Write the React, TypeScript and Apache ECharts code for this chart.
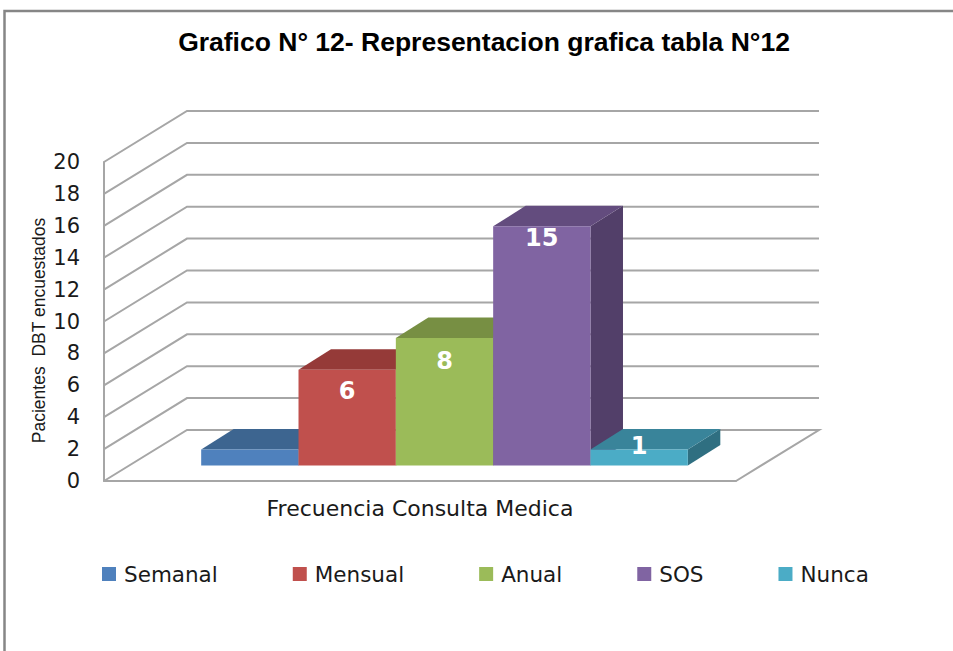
import React, { useEffect, useRef } from "react";
import * as echarts from "echarts";

const titleText = "Grafico N° 12- Representacion grafica tabla N°12";
const categoryLabels = ["Frecuencia Consulta Medica"];
const yAxisTitle = "Pacientes  DBT encuestados";
const yTicks = [0, 2, 4, 6, 8, 10, 12, 14, 16, 18, 20];
const seriesNames = ["Semanal", "Mensual", "Anual", "SOS", "Nunca"];
const seriesValues = [1, 6, 8, 15, 1];
const showValueLabel = [false, true, true, true, true];
const frontColors = ["#4F81BD", "#C0504D", "#9BBB59", "#8064A2", "#4BACC6"];
const topColors = ["#3D6590", "#953A38", "#778F43", "#634C7E", "#39849A"];
const sideColors = ["#335579", "#7E312F", "#64783A", "#523F69", "#2F6F81"];
// vertical nudge of each value label, relative to the bar's front top edge
const labelNudge = [0, 21, 23, 12, -4];

const GRID_COLOR = "#A6A6A6";
const WALL_DX = 83;
const WALL_DY = -51;
const BAR_SHIFT_X = 24.5;
const BAR_SHIFT_Y = -15.5;
const BAR_DEPTH_X = 32.5;
const BAR_DEPTH_Y = -20.5;
const BAR_WIDTH_RATIO = 0.154;
const AXIS_FONT = "DejaVu Sans";

function renderWall(params: any, api: any) {
  const v = api.value(1);
  const cs = params.coordSys;
  const y = api.coord([0, v])[1];
  const left = cs.x;
  const right = cs.x + cs.width;
  const points =
    v === 0
      ? [
          [left, y],
          [left + WALL_DX, y + WALL_DY],
          [right + WALL_DX, y + WALL_DY],
          [right, y],
        ]
      : [
          [left, y],
          [left + WALL_DX, y + WALL_DY],
          [right + WALL_DX, y + WALL_DY],
        ];
  return {
    type: "polyline",
    shape: { points },
    style: { stroke: GRID_COLOR, lineWidth: 2, fill: "none" },
  };
}

function makeBarRenderer(i: number) {
  return (params: any, api: any) => {
    const cs = params.coordSys;
    const val = api.value(1);
    const center = api.coord([0, 0])[0];
    const base = api.coord([0, 0])[1] + BAR_SHIFT_Y;
    const top = api.coord([0, val])[1] + BAR_SHIFT_Y;
    const w = cs.width * BAR_WIDTH_RATIO;
    const x0 = center + BAR_SHIFT_X + (i - 2.5) * w;
    const x1 = x0 + w;
    const children: any[] = [
      {
        type: "polygon",
        shape: {
          points: [
            [x1, top],
            [x1 + BAR_DEPTH_X, top + BAR_DEPTH_Y],
            [x1 + BAR_DEPTH_X, base + BAR_DEPTH_Y],
            [x1, base],
          ],
        },
        style: { fill: sideColors[i] },
      },
      {
        type: "polygon",
        shape: {
          points: [
            [x0, top],
            [x0 + BAR_DEPTH_X, top + BAR_DEPTH_Y],
            [x1 + BAR_DEPTH_X, top + BAR_DEPTH_Y],
            [x1, top],
          ],
        },
        style: { fill: topColors[i] },
      },
      {
        type: "rect",
        shape: { x: x0, y: top, width: w, height: base - top },
        style: { fill: frontColors[i] },
      },
    ];
    if (showValueLabel[i]) {
      children.push({
        type: "text",
        style: {
          text: String(val),
          x: (x0 + x1) / 2,
          y: top + labelNudge[i],
          align: "center",
          verticalAlign: "middle",
          fill: "#FFFFFF",
          font: `bold 24px "${AXIS_FONT}"`,
        },
      });
    }
    return { type: "group", children };
  };
}

export default function App() {
  const ref = useRef<HTMLDivElement>(null);
  useEffect(() => {
    if (!ref.current) return;
    const chart = echarts.init(ref.current, undefined, { renderer: "svg" });
    chart.setOption({
      animation: false,
      backgroundColor: "#FFFFFF",
      title: {
        text: titleText,
        left: 479,
        top: 23,
        textAlign: "center",
        textStyle: {
          fontFamily: "Liberation Sans",
          fontSize: 26.5,
          fontWeight: "bold",
          color: "#000000",
        },
      },
      graphic: [
        {
          type: "polyline",
          shape: {
            points: [
              [4.5, 651],
              [4.5, 11],
              [953, 11],
            ],
          },
          style: { stroke: "#868686", lineWidth: 2.5, fill: "none" },
          silent: true,
        },
      ],
      legend: {
        data: seriesNames,
        left: 102,
        top: 563,
        padding: 0,
        icon: "rect",
        itemWidth: 14,
        itemHeight: 14,
        itemGap: 75,
        textStyle: {
          fontFamily: AXIS_FONT,
          fontSize: 21.5,
          color: "#1A1A1A",
          padding: [0, 0, 0, 3],
        },
      },
      grid: { left: 104, right: 217, top: 162, bottom: 170 },
      xAxis: {
        type: "category",
        data: categoryLabels,
        axisLine: { show: true, lineStyle: { color: GRID_COLOR, width: 2 } },
        axisTick: { show: false },
        axisLabel: {
          margin: 16,
          fontFamily: AXIS_FONT,
          fontSize: 22,
          color: "#1A1A1A",
        },
      },
      yAxis: {
        type: "value",
        min: 0,
        max: 20,
        interval: 2,
        name: yAxisTitle,
        nameLocation: "middle",
        nameGap: 56,
        nameRotate: 90,
        nameMoveOverlap: false,
        nameTextStyle: {
          fontFamily: "Liberation Sans",
          fontSize: 17.5,
          color: "#1A1A1A",
          padding: [0, 18, 0, 0],
        },
        splitLine: { show: false },
        axisLine: { show: true, lineStyle: { color: GRID_COLOR, width: 2 } },
        axisTick: { show: false },
        axisLabel: {
          margin: 24,
          fontFamily: AXIS_FONT,
          fontSize: 21,
          color: "#1A1A1A",
        },
      },
      series: [
        {
          type: "custom",
          name: "grid",
          silent: true,
          clip: false,
          renderItem: renderWall,
          data: yTicks.map((t) => [0, t]),
          z: 1,
        },
        ...seriesNames.map((name, i) => ({
          type: "custom",
          name,
          clip: false,
          renderItem: makeBarRenderer(i),
          itemStyle: { color: frontColors[i] },
          data: [[0, seriesValues[i]]],
          z: 2 + i,
        })),
      ],
    });
    return () => chart.dispose();
  }, []);
  return (
    <div
      ref={ref}
      style={{ position: "fixed", left: 0, top: 0, width: 953, height: 651 }}
    />
  );
}
